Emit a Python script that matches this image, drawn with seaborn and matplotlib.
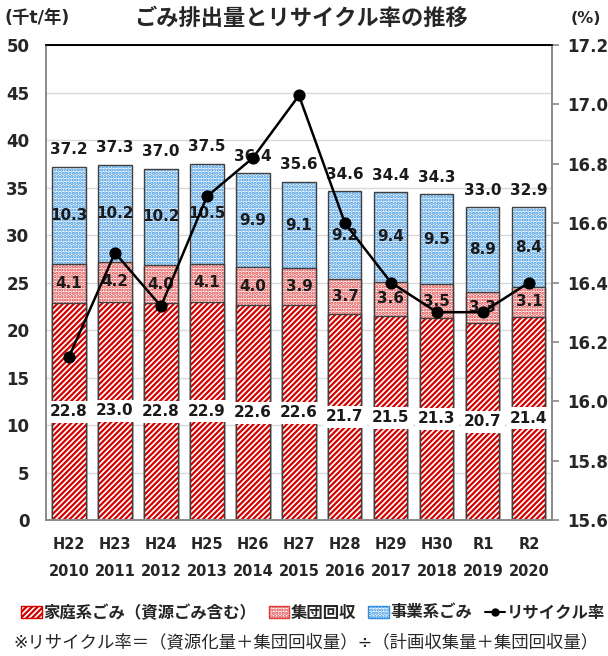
import numpy as np
import pandas as pd
import seaborn as sns
from matplotlib import pyplot as plt
from matplotlib.patches import Patch
from matplotlib.lines import Line2D

# 年度
wareki = ['H22', 'H23', 'H24', 'H25', 'H26', 'H27', 'H28', 'H29', 'H30', 'R1', 'R2']
seireki = ['2010', '2011', '2012', '2013', '2014', '2015', '2016', '2017', '2018', '2019', '2020']

# 排出量 (千t/年)
katei = [22.8, 23.0, 22.8, 22.9, 22.6, 22.6, 21.7, 21.5, 21.3, 20.7, 21.4]
shudan = [4.1, 4.2, 4.0, 4.1, 4.0, 3.9, 3.7, 3.6, 3.5, 3.3, 3.1]
jigyo = [10.3, 10.2, 10.2, 10.5, 9.9, 9.1, 9.2, 9.4, 9.5, 8.9, 8.4]
gokei = [37.2, 37.3, 37.0, 37.5, 36.4, 35.6, 34.6, 34.4, 34.3, 33.0, 32.9]

# リサイクル率 (%)
recycle = [16.15, 16.50, 16.32, 16.69, 16.82, 17.03, 16.60, 16.40, 16.30, 16.30, 16.40]

RED = '#d40000'
PINK = '#e03a3a'
BLUE = '#2f8ee0'
GRAY = '#8c8c8c'

sns.set_theme(style='white')
plt.rcParams['font.family'] = ['DejaVu Sans', 'Noto Sans CJK JP']
plt.rcParams['hatch.linewidth'] = 1.6

df = pd.DataFrame({
    'label': [f'{w}\n{y}' for w, y in zip(wareki, seireki)],
    'katei': katei, 'shudan': shudan, 'jigyo': jigyo,
})
df['lv2'] = df['katei'] + df['shudan']
df['lv3'] = df['lv2'] + df['jigyo']

fig = plt.figure(figsize=(6.08, 6.56), dpi=100)
ax = fig.add_axes([0.0757, 0.2073, 0.832, 0.7241])

# 積み上げ (上から順に重ね描き)
levels = [('lv3', BLUE, '.....'), ('lv2', PINK, '.....'), ('katei', RED, '//////')]
for col, c, h in levels:
    sns.barplot(data=df, x='label', y=col, color='white', width=0.72,
                edgecolor=c, linewidth=0, saturation=1, ax=ax)
    n0 = len(ax.patches) - len(df)
    for p in ax.patches[n0:]:
        p.set_hatch(h)
        p.set_edgecolor(c)
    sns.barplot(data=df, x='label', y=col, color='#404040', width=0.72,
                fill=False, linewidth=1.0, ax=ax)

# ラベル
lab = dict(ha='center', va='center', fontsize=11, fontweight='bold', color='#1a1a1a')
for i, row in df.iterrows():
    ax.text(i, row['katei'] / 2, f"{row['katei']:.1f}",
            bbox=dict(facecolor='white', edgecolor='none', pad=2.5), **lab)
    ax.text(i, row['katei'] + row['shudan'] / 2, f"{row['shudan']:.1f}", **lab)
    ax.text(i, row['lv2'] + row['jigyo'] / 2, f"{row['jigyo']:.1f}", **lab)
    ax.text(i, row['lv3'] + 1.0, f"{gokei[i]:.1f}", ha='center', va='bottom',
            fontsize=11, fontweight='bold', color='#1a1a1a')

ax.set_xlim(-0.5, len(df) - 0.5)
ax.set_ylim(0, 50)
ax.set_yticks(np.arange(0, 51, 5))
ax.set_xlabel('')
ax.set_ylabel('')
ax.yaxis.grid(True, color='#d9d9d9', linewidth=1)
ax.set_axisbelow(True)
ax.tick_params(axis='y', length=0, pad=12, labelsize=12)
ax.tick_params(axis='x', length=0, pad=12, labelsize=10.5)
for t in ax.get_yticklabels():
    t.set_fontweight('bold')
for t in ax.get_xticklabels():
    t.set_fontweight('bold')
    t.set_linespacing(2.0)
for s in ['left', 'bottom', 'right']:
    ax.spines[s].set_color(GRAY)
ax.spines['top'].set_color('black')

# リサイクル率
ax2 = ax.twinx()
sns.lineplot(x=np.arange(len(recycle)), y=recycle, color='black', linewidth=1.8,
             marker='o', markersize=8, markeredgecolor='black', ax=ax2)
ax2.set_ylim(15.6, 17.2)
ax2.set_yticks(np.arange(15.6, 17.21, 0.2))
ax2.set_yticklabels([f'{v:.1f}' for v in np.arange(15.6, 17.21, 0.2)],
                    fontweight='bold', fontsize=12)
ax2.tick_params(axis='y', length=5, color=GRAY, pad=6)
ax2.set_xlim(-0.5, len(df) - 0.5)
for s in ['left', 'bottom', 'right']:
    ax2.spines[s].set_color(GRAY)
ax2.spines['top'].set_color('black')

fig.text(0.495, 0.972, 'ごみ排出量とリサイクル率の推移', ha='center', va='center',
         fontsize=16, fontweight='bold')
fig.text(0.008, 0.972, '(千t/年)', ha='left', va='center', fontsize=12.5, fontweight='bold')
fig.text(0.988, 0.972, '(%)', ha='right', va='center', fontsize=11.5, fontweight='bold')

handles = [
    Patch(facecolor='white', edgecolor=RED, hatch='//////'),
    Patch(facecolor='white', edgecolor=PINK, hatch='.....'),
    Patch(facecolor='white', edgecolor=BLUE, hatch='.....'),
    Line2D([0], [0], color='black', marker='o', markersize=5, linewidth=1.5),
]
names = ['家庭系ごみ（資源ごみ含む）', '集団回収', '事業系ごみ', 'リサイクル率']
leg = fig.legend(handles, names, loc='center left', bbox_to_anchor=(0.035, 0.066), ncol=4,
                 frameon=False, handlelength=1.25, handletextpad=0.1, columnspacing=0.75,
                 borderaxespad=0, borderpad=0, prop={'size': 11.8, 'weight': 'bold'})

fig.text(0.022, 0.021, '※リサイクル率＝（資源化量＋集団回収量）÷（計画収集量＋集団回収量）',
         ha='left', va='center', fontsize=12.5)

fig.savefig('out.png', dpi=100)
